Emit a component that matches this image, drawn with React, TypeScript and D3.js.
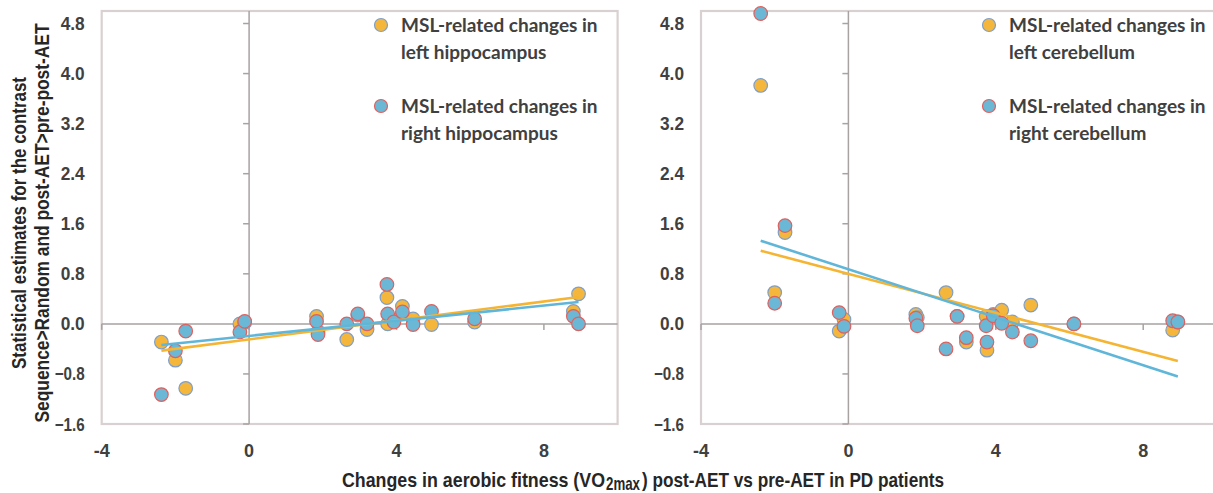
import * as d3 from 'd3';

// x: change in VO2max per patient (shared by both panels)
const patientX = [-2.38, -2.0, -1.72, -0.25, -0.12, 1.83, 1.87, 2.65, 2.95, 3.2, 3.74, 3.76, 3.93, 4.16, 4.45, 4.95, 6.12, 8.8, 8.94];

const leftHippocampus = [-0.29, -0.58, -1.03, 0.0, 0.02, 0.12, -0.12, -0.25, 0.14, -0.09, 0.42, 0.0, 0.06, 0.28, 0.08, -0.01, 0.03, 0.2, 0.48];
const rightHippocampus = [-1.13, -0.43, -0.115, -0.13, 0.04, 0.04, -0.17, 0.0, 0.16, 0.0, 0.63, 0.16, 0.03, 0.19, -0.01, 0.2, 0.08, 0.12, 0.0];
const leftCerebellum = [3.81, 0.5, 1.46, -0.115, 0.07, 0.15, 0.1, 0.5, 0.12, -0.29, 0.12, -0.42, 0.15, 0.22, 0.03, 0.3, 0.0, -0.1, 0.03];
const rightCerebellum = [4.96, 0.33, 1.57, 0.18, -0.04, 0.09, -0.03, -0.4, 0.12, -0.22, -0.03, -0.29, 0.13, 0.01, -0.13, -0.27, 0.0, 0.05, 0.03];

const yTicks = [-1.6, -0.8, 0, 0.8, 1.6, 2.4, 3.2, 4.0, 4.8];
const xTicks = [-4, 0, 4, 8];

const leftLegend = [
  ['MSL-related changes in', 'left hippocampus'],
  ['MSL-related changes in', 'right hippocampus'],
];
const rightLegend = [
  ['MSL-related changes in', 'left cerebellum'],
  ['MSL-related changes in', 'right cerebellum'],
];

const yTitle = ['Statistical estimates for the contrast', 'Sequence>Random and post-AET>pre-post-AET'];
// x title in three pieces: text, lowered "2max", rest
const xTitle = ['Changes in aerobic fitness (VO', '2max', ') post-AET vs pre-AET in PD patients'];

const W = 1213;
const H = 493;
const top = 11;
const bottom = 424;
const plotW = 14 * 36.85;

const sans = "'Liberation Sans', Arial, sans-serif";
const legendFont = "Lato, 'Open Sans', sans-serif";

const yellow = { fill: '#F4B73B', stroke: '#7F9FC8', line: '#F5B431' };
const blue = { fill: '#6BB8D6', stroke: '#DF615D', line: '#5FB6D9' };

const yScale = d3.scaleLinear().domain([-1.6, 5.0]).range([bottom, top]);

function fit(xs: number[], ys: number[]) {
  const mx = d3.mean(xs) as number;
  const my = d3.mean(ys) as number;
  const sxy = d3.sum(xs, (x, i) => (x - mx) * (ys[i] - my));
  const sxx = d3.sum(xs, (x) => (x - mx) * (x - mx));
  const slope = sxy / sxx;
  const [lo, hi] = d3.extent(xs) as [number, number];
  return [
    [lo, my + slope * (lo - mx)],
    [hi, my + slope * (hi - mx)],
  ] as [number, number][];
}

interface PanelProps {
  left: number;
  series: number[][];
  legend: string[][];
  legendX: number;
}

function Panel({ left, series, legend, legendX }: PanelProps) {
  const xScale = d3.scaleLinear().domain([-4, 10]).range([left, left + plotW]);
  const line = d3
    .line<[number, number]>()
    .x((d) => xScale(d[0]))
    .y((d) => yScale(d[1]));
  const styles = [yellow, blue];
  const x0 = xScale(0);
  const y0 = yScale(0);

  return (
    <g>
      <rect
        x={left}
        y={top}
        width={plotW}
        height={bottom - top}
        fill="white"
        stroke="#D9D1D1"
        strokeWidth={2.2}
      />
      {/* horizontal axis at y = 0 */}
      <line x1={left} x2={left + plotW} y1={y0} y2={y0} stroke="#A8A2A2" strokeWidth={1.5} />
      {xTicks.map((t) => (
        <line key={t} x1={xScale(t)} x2={xScale(t)} y1={y0} y2={y0 + 6} stroke="#A8A2A2" strokeWidth={1.5} />
      ))}
      {/* vertical axis at x = 0 */}
      <line x1={x0} x2={x0} y1={top} y2={bottom} stroke="#A8A2A2" strokeWidth={1.5} />
      {yTicks.map((t) => (
        <line key={t} x1={x0 - 6} x2={x0} y1={yScale(t)} y2={yScale(t)} stroke="#A8A2A2" strokeWidth={1.5} />
      ))}
      {yTicks.map((t) => (
        <text
          key={t}
          x={left - 17}
          y={yScale(t) + 6.5}
          textAnchor="end"
          fontFamily={sans}
          fontWeight="bold"
          fontSize={18}
          fill="#404040"
          textLength={t < 0 ? 30 : 24}
          lengthAdjust="spacingAndGlyphs"
        >
          {d3.format('.1f')(t)}
        </text>
      ))}
      {xTicks.map((t) => (
        <text
          key={t}
          x={xScale(t)}
          y={457}
          textAnchor="middle"
          fontFamily={sans}
          fontWeight="bold"
          fontSize={18}
          fill="#404040"
        >
          {t}
        </text>
      ))}
      {series.map((ys, si) => (
        <g key={si}>
          {ys.map((v, i) => (
            <circle
              key={i}
              cx={xScale(patientX[i])}
              cy={yScale(v)}
              r={6.8}
              fill={styles[si].fill}
              stroke={styles[si].stroke}
              strokeWidth={1.2}
            />
          ))}
        </g>
      ))}
      {series.map((ys, si) => (
        <path
          key={'fit' + si}
          d={line(fit(patientX, ys)) || ''}
          fill="none"
          stroke={styles[si].line}
          strokeWidth={2.6}
        />
      ))}
      {legend.map((lines, i) => (
        <g key={'lg' + i} transform={`translate(${legendX},${25 + i * 81})`}>
          <circle cx={0} cy={0} r={6.5} fill={styles[i].fill} stroke={styles[i].stroke} strokeWidth={1.2} />
          {lines.map((s, k) => (
            <text
              key={k}
              x={20}
              y={7 + k * 27}
              fontFamily={legendFont}
              fontWeight="bold"
              fontSize={19}
              fill="#404040"
            >
              {s}
            </text>
          ))}
        </g>
      ))}
    </g>
  );
}

export default function App() {
  const titleProps = {
    fontFamily: sans,
    fontWeight: 'bold',
    fontSize: 21,
    fill: '#262626',
    lengthAdjust: 'spacingAndGlyphs',
  };
  return (
    <div style={{ position: 'absolute', left: 0, top: 0 }}>
      <svg width={W} height={H} style={{ display: 'block', background: 'white' }}>
        <Panel left={101.7} series={[leftHippocampus, rightHippocampus]} legend={leftLegend} legendX={381} />
        <Panel left={701} series={[leftCerebellum, rightCerebellum]} legend={rightLegend} legendX={989} />
        <g transform="translate(0,223) rotate(-90)">
          <text x={0} y={26} textAnchor="middle" textLength={292} {...titleProps}>
            {yTitle[0]}
          </text>
          <text x={0} y={49} textAnchor="middle" textLength={399} {...titleProps}>
            {yTitle[1]}
          </text>
        </g>
        <text x={342} y={487} textLength={263} {...titleProps}>
          {xTitle[0]}
        </text>
        <text x={606} y={490} textLength={34} {...titleProps} fontSize={19}>
          {xTitle[1]}
        </text>
        <text x={642} y={487} textLength={302} {...titleProps}>
          {xTitle[2]}
        </text>
      </svg>
    </div>
  );
}
